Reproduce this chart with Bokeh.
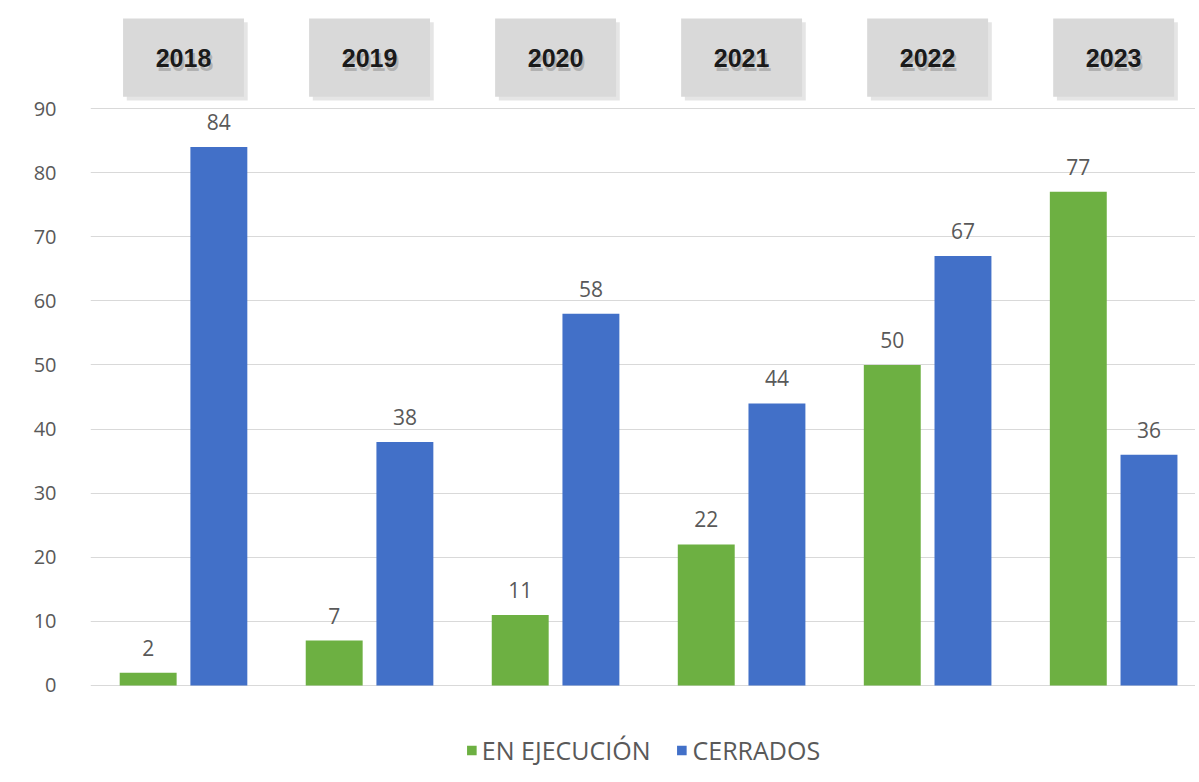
import numpy as np
from bokeh.plotting import figure
from bokeh.models import Range1d, FixedTicker, ColumnDataSource, Legend, LegendItem
from bokeh.core.properties import value
from bokeh.transform import dodge
from bokeh.embed import file_html
from bokeh.resources import INLINE

years = ["2018", "2019", "2020", "2021", "2022", "2023"]
en_ejecucion = [2, 7, 11, 22, 50, 77]
cerrados = [84, 38, 58, 44, 67, 36]
y_ticks = [0, 10, 20, 30, 40, 50, 60, 70, 80, 90]

GREEN = "#6db042"
BLUE = "#4270c8"
LABEL = "#595959"
FONT = "Open Sans"

idx = np.arange(len(years))
off = 0.19
bw = 0.306
box_y = 97.95

p = figure(frame_width=1105, frame_height=767, output_backend="svg", toolbar_location=None,
           x_range=Range1d(-0.5, 5.44), y_range=Range1d(-14.04, 105.6),
           min_border_left=90, min_border_right=0, min_border_top=8, min_border_bottom=0)
p.outline_line_color = None
p.background_fill_color = "white"
p.border_fill_color = "white"
p.xaxis.visible = False
p.xgrid.visible = False
p.yaxis.ticker = FixedTicker(ticks=y_ticks)
p.ygrid.ticker = FixedTicker(ticks=y_ticks)
p.ygrid.grid_line_color = "#d9d9d9"
p.ygrid.grid_line_width = 1
p.yaxis.axis_line_color = None
p.yaxis.major_tick_line_color = None
p.yaxis.minor_tick_line_color = None
p.yaxis.major_label_standoff = 28
p.yaxis.major_label_text_font = FONT
p.yaxis.major_label_text_font_size = "20px"
p.yaxis.major_label_text_color = LABEL

src = ColumnDataSource(dict(
    xg=idx - off, xb=idx + off, g=en_ejecucion, b=cerrados,
    gl=[str(v) for v in en_ejecucion], bl=[str(v) for v in cerrados],
    xc=idx, yr=years, by=[box_y] * len(years),
))

rg = p.vbar(x="xg", top="g", width=bw, source=src, fill_color=GREEN, line_color=None)
rb = p.vbar(x="xb", top="b", width=bw, source=src, fill_color=BLUE, line_color=None)

for xcol, ycol, lcol in (("xg", "g", "gl"), ("xb", "b", "bl")):
    p.text(x=xcol, y=ycol, text=lcol, source=src, y_offset=-25,
           text_align="center", text_baseline="alphabetic",
           text_font=value(FONT), text_font_size="21px", text_color=LABEL)

# year header boxes
p.rect(x=dodge("xc", 0.02), y=dodge("by", -0.6), width=0.65, height=12.2, source=src,
       fill_color="#bdbdbd", fill_alpha=0.4, line_color=None)
p.rect(x="xc", y="by", width=0.65, height=12.2, source=src,
       fill_color="#d9d9d9", line_color=None)
p.text(x="xc", y="by", text="yr", source=src, x_offset=2, y_offset=4,
       text_align="center", text_baseline="middle", text_font=value("Liberation Sans"),
       text_font_style="bold", text_font_size="25px", text_color="#8a8a8a", text_alpha=0.5)
p.text(x="xc", y="by", text="yr", source=src,
       text_align="center", text_baseline="middle", text_font=value("Liberation Sans"),
       text_font_style="bold", text_font_size="25px", text_color="#1a1a1a")

legend = Legend(items=[LegendItem(label="EN EJECUCIÓN", renderers=[rg]),
                       LegendItem(label="CERRADOS", renderers=[rb])],
                orientation="horizontal", location="bottom_center")
legend.label_text_font = FONT
legend.label_text_font_size = "25px"
legend.label_text_color = LABEL
legend.glyph_width = 12
legend.glyph_height = 12
legend.spacing = 25
legend.label_standoff = 5
legend.border_line_color = None
legend.background_fill_alpha = 0
legend.margin = 8
legend.padding = 2
p.add_layout(legend, "center")

open("out.html", "w").write(file_html(p, INLINE))
